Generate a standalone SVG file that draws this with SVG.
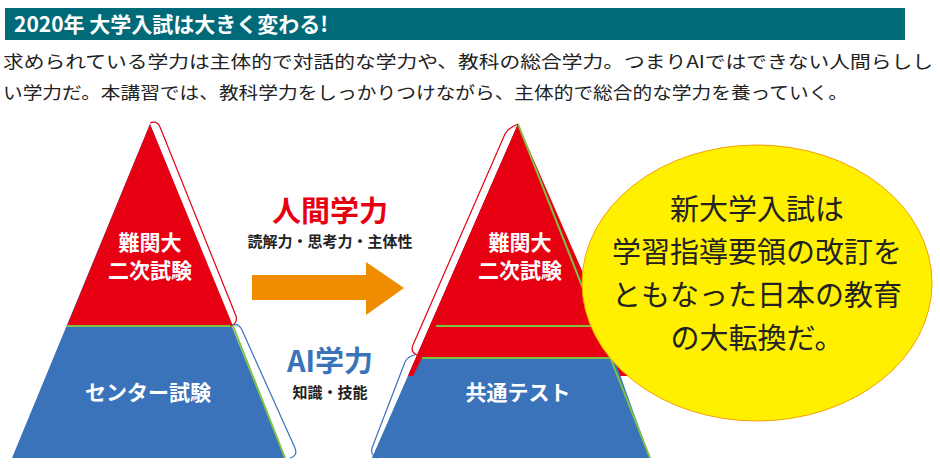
<svg xmlns="http://www.w3.org/2000/svg" width="940" height="475" viewBox="0 0 940 475">
<style>
text{font-family:"Noto Sans CJK JP","Noto Sans",sans-serif}
.w{fill:#fff;font-weight:bold;font-size:21px;text-anchor:middle}
.b{fill:#222;font-size:17.5px}
.k{fill:#222;font-weight:bold;font-size:15px;text-anchor:middle}
.br{fill:none;stroke-width:1.2}
</style>
<rect width="940" height="475" fill="#fff"/>
<rect x="5" y="8" width="900" height="32" fill="#006a78"/>
<text x="14" y="32" fill="#fff" font-weight="bold" font-size="21">2020年 大学入試は大きく変わる!</text>
<text class="b" x="3" y="68" textLength="930" lengthAdjust="spacingAndGlyphs">求められている学力は主体的で対話的な学力や、教科の総合学力。つまりAIではできない人間らしし</text>
<text class="b" x="3" y="99" textLength="845" lengthAdjust="spacingAndGlyphs">い学力だ。本講習では、教科学力をしっかりつけながら、主体的で総合的な学力を養っていく。</text>
<g id="left">
<polygon points="150,124 12,458 285,458" fill="#3a73b9"/>
<polygon points="150,124 67,326 233,326" fill="#e60012"/>
<line x1="67" y1="326" x2="233" y2="326" stroke="#7dc242" stroke-width="2"/>
<line x1="233" y1="326" x2="285" y2="458" stroke="#7dc242" stroke-width="2"/>
<text class="w" x="150" y="250">難関大</text>
<text class="w" x="150" y="278">二次試験</text>
<text class="w" x="148" y="400">センター試験</text>
</g>
<g id="right">
<polygon points="518,124 372,458 650,458" fill="#3a73b9"/>
<polygon points="518,124 408,376 628,376" fill="#e60012"/>
<polygon points="518,124 408,376 421,358 614,358" fill="#e60012"/>
<polygon points="518,124 422,358 614,358" fill="#e60012"/>
<rect x="380" y="358" width="280" height="0"/>
<polygon points="422,358 614,358 650,458 372,458" fill="#3a73b9"/>
<line x1="436" y1="326" x2="600" y2="326" stroke="#7dc242" stroke-width="2"/>
<line x1="422" y1="358" x2="614" y2="358" stroke="#7dc242" stroke-width="2"/>
<line x1="518" y1="124" x2="650" y2="458" stroke="#7dc242" stroke-width="2"/>
<text class="w" x="520" y="250">難関大</text>
<text class="w" x="520" y="278">二次試験</text>
<text class="w" x="518" y="400">共通テスト</text>
</g>
<g id="connectors">
<path class="br" stroke="#e60012" d="M150,123 Q157,120 160,127 L236,316 Q238,324 230,326"/>
<path class="br" stroke="#3a73b9" d="M232,325 Q239,323 242,330 L295,448 Q298,456 290,458"/>
<path class="br" stroke="#e60012" d="M518,124 Q508,128 505,134 L413,345 Q410,352 417,355"/>
<path class="br" stroke="#3a73b9" d="M415,355 Q408,356 405,362 L372,448 Q370,455 377,458"/>
<polygon points="252,275 366,275 366,262 404,288 366,315 366,300 252,300" fill="#f08c00"/>
</g>
<g id="labels">
<text x="330" y="222" fill="#e60012" font-weight="bold" font-size="29" text-anchor="middle">人間学力</text>
<text class="k" x="330" y="247">読解力・思考力・主体性</text>
<text x="330" y="372" fill="#3a73b9" font-weight="bold" font-size="29" text-anchor="middle">AI学力</text>
<text class="k" x="330" y="398">知識・技能</text>
</g>
<g id="ellipse">
<ellipse cx="757" cy="283" rx="175" ry="138" fill="#fff000" stroke="#f5a000" stroke-width="1"/>
<text x="757" y="220" font-size="29" fill="#222" text-anchor="middle">新大学入試は</text>
<text x="757" y="263" font-size="29" fill="#222" text-anchor="middle">学習指導要領の改訂を</text>
<text x="757" y="306" font-size="29" fill="#222" text-anchor="middle">ともなった日本の教育</text>
<text x="757" y="349" font-size="29" fill="#222" text-anchor="middle">の大転換だ。</text>
</g>
</svg>
